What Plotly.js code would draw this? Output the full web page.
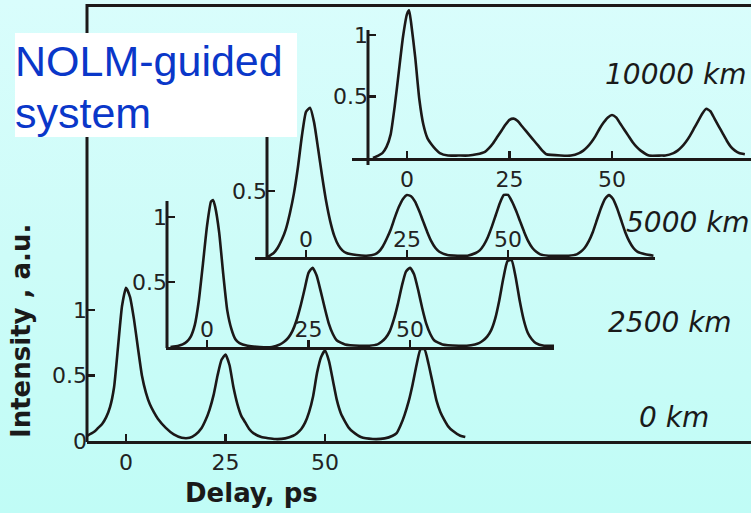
<!DOCTYPE html>
<html>
<head>
<meta charset="utf-8">
<script src="https://cdn.plot.ly/plotly-3.0.1.min.js"></script>
<style>
  html, body { margin: 0; padding: 0; }
  body { width: 751px; height: 513px; overflow: hidden;
         background: linear-gradient(to bottom, #d9fdfc 0%, #cdfcf8 50%, #c0fcf6 100%); }
  #chart { width: 751px; height: 513px; }
</style>
</head>
<body>
<div id="chart"></div>
<script>
// ---------- data (delay in ps, intensity in a.u.) ----------
const delay_0km = [-9.75,-8,-7,-6,-5,-4,-3,-2,-1,0,1,2,3,4,5,6,7,8,10,12,
  14,16,17.5,19,20,21,22,23,24,25,26,27,28,29,30,31,32,34,37.5,
  40,42,43,44,45,46,47,48,49,50,51,52,53,54,55,56,57,59,62,
  65,67,68,69,70,71,72,73,74,75,76,77,78,79,80,81,82,84,85.25];
const intensity_0km = [0.04,0.07,0.10,0.13,0.18,0.26,0.41,0.72,1.03,1.17,1.10,0.93,0.71,0.50,0.37,0.28,0.22,0.17,0.10,0.05,
  0.025,0.025,0.05,0.10,0.16,0.24,0.35,0.50,0.62,0.66,0.58,0.41,0.28,0.19,0.14,0.09,0.06,0.03,0.015,
  0.02,0.04,0.06,0.09,0.14,0.22,0.34,0.52,0.64,0.69,0.61,0.46,0.31,0.21,0.15,0.10,0.07,0.03,0.015,
  0.02,0.04,0.06,0.12,0.20,0.30,0.43,0.58,0.70,0.70,0.59,0.45,0.31,0.22,0.16,0.11,0.08,0.04,0.03];

const delay_2500km = [-9,-7,-6,-5,-4,-3,-2,-1,0,1,1.5,2,3,4,5,6,7,8,10,13,
  16,18,19,20,21,22,23,24,25,26,27,28,29,30,31,32,34,37.5,
  40,42,43,44,45,46,47,48,49,50,51,52,53,54,55,56,58,62,
  64,66,67,68,69,70,71,72,73,74,75,76,77,78,79,80,81,83,85.5];
const intensity_2500km = [0.0,0.01,0.02,0.04,0.08,0.17,0.36,0.64,0.93,1.12,1.13,1.08,0.88,0.56,0.28,0.14,0.06,0.03,0.01,0.0,
  0.0,0.02,0.04,0.07,0.12,0.20,0.31,0.44,0.57,0.61,0.55,0.43,0.30,0.18,0.10,0.05,0.02,0.01,
  0.01,0.02,0.04,0.07,0.12,0.21,0.33,0.47,0.58,0.61,0.56,0.44,0.30,0.18,0.10,0.05,0.02,0.01,
  0.01,0.02,0.03,0.05,0.08,0.13,0.22,0.36,0.53,0.66,0.67,0.54,0.36,0.21,0.11,0.06,0.03,0.01,0.01];

const delay_5000km = [-9.5,-8,-7,-6,-5,-4,-3,-2,-1,0,1,2,3,4,5,6,7,8,9,10,12.5,
  15,17,18,19,20,21,22,23,24,25,26,27,28,29,30,31,32,33,35,37.5,
  40,42,43,44,45,46,47,48,49,50,51,52,53,54,55,56,57,58,60,62.5,
  65,67,68,69,70,71,72,73,74,75,76,77,78,79,80,81,82,84,86];
const intensity_5000km = [0.0,0.03,0.07,0.13,0.21,0.33,0.48,0.68,0.92,1.10,1.13,1.02,0.82,0.61,0.42,0.27,0.16,0.09,0.05,0.03,0.015,
  0.01,0.02,0.04,0.08,0.14,0.21,0.30,0.38,0.44,0.47,0.46,0.42,0.35,0.27,0.19,0.12,0.07,0.04,0.015,0.01,
  0.01,0.03,0.05,0.09,0.15,0.23,0.32,0.41,0.47,0.47,0.42,0.35,0.27,0.19,0.12,0.07,0.04,0.02,0.01,0.01,
  0.01,0.02,0.04,0.07,0.12,0.19,0.28,0.37,0.44,0.47,0.44,0.37,0.28,0.19,0.12,0.07,0.04,0.02,0.01];

const delay_10000km = [-8.3,-7,-6,-5,-4,-3,-2,-1,0,0.5,1,2,3,4,5,6,7,8,10,12.5,
  15,17,19,20,21,22,23,24,25,26,27,28,29,30,31,32,33,34,37.5,
  40,42,43,44,45,46,47,48,49,50,51,52,53,54,55,56,57,59,62,
  63,65,66,67,68,69,70,71,72,73,74,75,76,77,78,79,80,81,82.4];
const intensity_10000km = [0.0,0.02,0.04,0.09,0.19,0.42,0.70,0.98,1.17,1.20,1.10,0.82,0.48,0.27,0.16,0.11,0.07,0.04,0.02,0.02,
  0.02,0.03,0.05,0.08,0.12,0.17,0.22,0.27,0.31,0.32,0.30,0.26,0.22,0.18,0.14,0.10,0.06,0.03,0.02,
  0.02,0.04,0.06,0.09,0.13,0.18,0.24,0.29,0.33,0.35,0.33,0.28,0.23,0.18,0.13,0.09,0.06,0.02,0.02,
  0.02,0.04,0.06,0.09,0.13,0.18,0.24,0.30,0.36,0.40,0.38,0.32,0.26,0.20,0.14,0.09,0.06,0.04,0.03];

const delayTickVals = [0, 25, 50];
const delayTickText = ['0', '25', '50'];
const intensityTickVals = [0, 0.5, 1];
const intensityTickText = ['0', '0.5', '1'];
const distanceLabels = ['0 km', '2500 km', '5000 km', '10000 km'];
const titleText = ['NOLM-guided', 'system'];
const xTitle = 'Delay, ps';
const yTitle = 'Intensity , a.u.';

// ---------- layout geometry (pixels) ----------
const W = 751, H = 513;
const PX = x => x / W, PY = y => 1 - y / H;
const INK = '#1c1818';

const panels = [
  {id: '',  xs: delay_0km,     ys: intensity_0km,     xl: 87,  xr: 751, axisY: 441, top: 6,   yAxisX: 87,  yLineTop: 4,   yLineBot: 442, zeroPx: 126, pps: 3.98, ppu: 131, inside: false, yt: [0,1,2]},
  {id: '2', xs: delay_2500km,  ys: intensity_2500km,  xl: 166, xr: 554, axisY: 347, top: 190, yAxisX: 167, yLineTop: 201, yLineBot: 348, zeroPx: 207, pps: 4.06, ppu: 130, inside: true,  yt: [0,1,2]},
  {id: '3', xs: delay_5000km,  ys: intensity_5000km,  xl: 255, xr: 655, axisY: 257, top: 100, yAxisX: 267, yLineTop: 130, yLineBot: 258, zeroPx: 306, pps: 4.04, ppu: 132, inside: true,  yt: [0,1,2]},
  {id: '4', xs: delay_10000km, ys: intensity_10000km, xl: 352, xr: 751, axisY: 158, top: 4,   yAxisX: 368, yLineTop: 30,  yLineBot: 165, zeroPx: 407, pps: 4.10, ppu: 123, inside: false, yt: [1,2]}
];

const tickFont = {family: 'DejaVu Sans, Arial, sans-serif', size: 22, color: '#222'};
const data = [];
const layout = {
  width: W, height: H,
  margin: {l: 0, r: 0, t: 0, b: 0, pad: 0},
  paper_bgcolor: 'rgba(0,0,0,0)', plot_bgcolor: 'rgba(0,0,0,0)',
  showlegend: false,
  shapes: [], annotations: []
};

panels.forEach(p => {
  data.push({
    x: p.xs, y: p.ys, type: 'scatter', mode: 'lines',
    xaxis: 'x' + p.id, yaxis: 'y' + p.id,
    line: {color: INK, width: 2.6, shape: 'spline', smoothing: 0.5},
    hoverinfo: 'skip'
  });
  layout['xaxis' + p.id] = {
    domain: [PX(p.xl), PX(p.xr)],
    range: [(p.xl - p.zeroPx) / p.pps, (p.xr - p.zeroPx) / p.pps],
    anchor: 'y' + p.id,
    showline: true, linewidth: 3, linecolor: INK,
    ticks: 'inside', ticklen: 7, tickwidth: 2.5, tickcolor: INK,
    tickmode: 'array', tickvals: delayTickVals, ticktext: delayTickText,
    ticklabelposition: p.inside ? 'inside' : 'outside',
    tickfont: tickFont, showgrid: false, zeroline: false, fixedrange: true
  };
  layout['yaxis' + p.id] = {
    domain: [PY(p.axisY), PY(p.top)],
    range: [0, (p.axisY - p.top) / p.ppu],
    anchor: 'free', position: PX(p.yAxisX),
    showline: false,
    ticks: 'inside', ticklen: 7, tickwidth: 2.5, tickcolor: INK,
    tickmode: 'array',
    tickvals: p.yt.map(i => intensityTickVals[i]),
    ticktext: p.yt.map(i => intensityTickText[i]),
    tickfont: tickFont, showgrid: false, zeroline: false, fixedrange: true
  };
  layout.shapes.push({type: 'line', xref: 'paper', yref: 'paper', layer: 'above',
    x0: PX(p.yAxisX), x1: PX(p.yAxisX), y0: PY(p.yLineBot), y1: PY(p.yLineTop),
    line: {color: INK, width: 3}});
});

// top frame line
layout.shapes.push({type: 'line', xref: 'paper', yref: 'paper', layer: 'above',
  x0: PX(86), x1: 1, y0: PY(5.5), y1: PY(5.5), line: {color: INK, width: 3}});
// white text box
layout.shapes.push({type: 'rect', xref: 'paper', yref: 'paper', layer: 'above',
  x0: PX(15), x1: PX(297), y0: PY(137), y1: PY(33), fillcolor: '#ffffff', line: {width: 0}});

const ann = (text, x, y, font, extra) => Object.assign({
  text: text, xref: 'paper', yref: 'paper', x: PX(x), y: PY(y),
  xanchor: 'left', yanchor: 'middle', showarrow: false, font: font
}, extra || {});

const boxFont = {family: 'Liberation Sans, Arial, sans-serif', size: 43, color: '#0a37c9'};
layout.annotations.push(ann(titleText[0], 13, 61.5, boxFont));
layout.annotations.push(ann(titleText[1], 13, 113.5, boxFont));

const kmFont = {family: 'DejaVu Sans, Arial, sans-serif', size: 28, color: '#1a1a1a'};
layout.annotations.push(ann('<i>' + distanceLabels[0] + '</i>', 637, 417.5, kmFont));
layout.annotations.push(ann('<i>' + distanceLabels[1] + '</i>', 606, 322.5, kmFont));
layout.annotations.push(ann('<i>' + distanceLabels[2] + '</i>', 624, 222.5, kmFont));
layout.annotations.push(ann('<i>' + distanceLabels[3] + '</i>', 603, 75, kmFont));

const labelFont = {family: 'DejaVu Sans, Arial, sans-serif', size: 26, color: '#1a1a1a'};
layout.annotations.push(ann('<b>' + xTitle + '</b>', 251, 493, labelFont, {xanchor: 'center'}));
layout.annotations.push(ann('<b>' + yTitle + '</b>', 21, 331, labelFont, {xanchor: 'center', textangle: -90}));

Plotly.newPlot('chart', data, layout, {displayModeBar: false, staticPlot: true});
</script>
</body>
</html>
